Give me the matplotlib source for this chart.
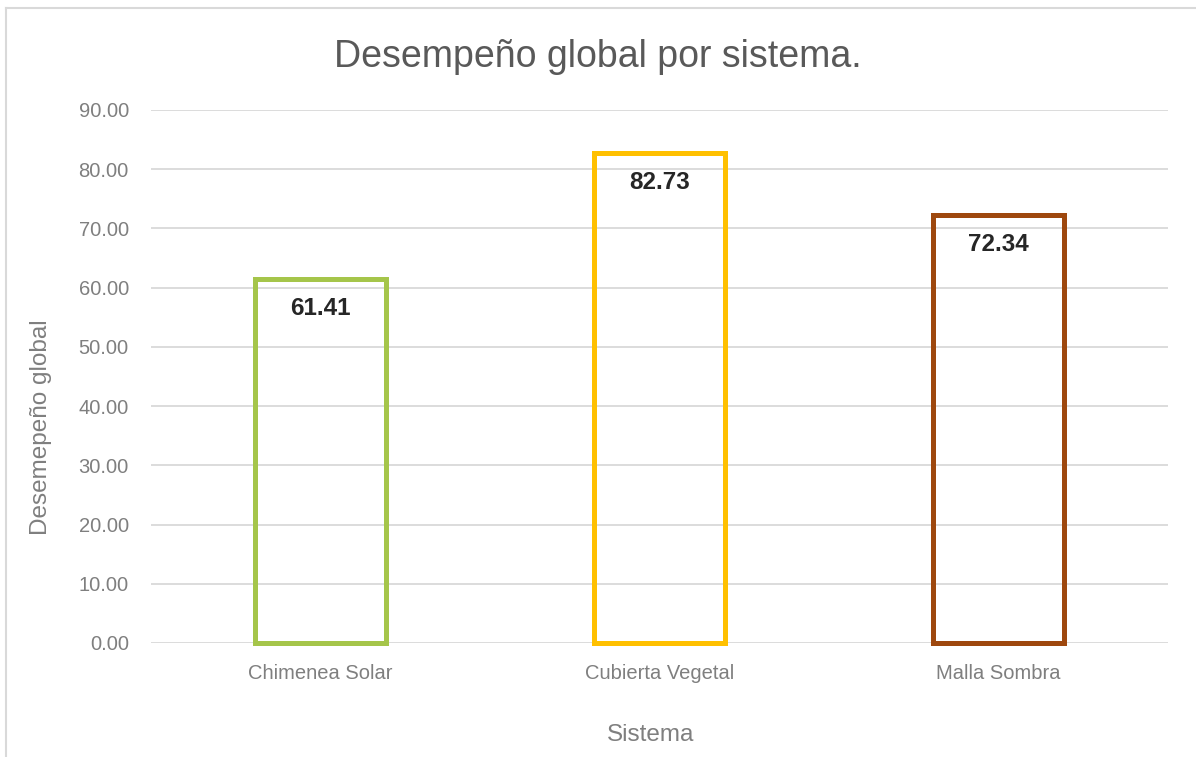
import matplotlib.pyplot as plt
from matplotlib.lines import Line2D

# Data
sistemas = ["Chimenea Solar", "Cubierta Vegetal", "Malla Sombra"]
desempeno = [61.41, 82.73, 72.34]
colores = ["#A5C54A", "#FFC000", "#9E480E"]
y_ticks = [0, 10, 20, 30, 40, 50, 60, 70, 80, 90]

plt.rcParams["font.family"] = ["Liberation Sans", "DejaVu Sans"]

fig = plt.figure(figsize=(11.96, 7.57), dpi=100)
ax = fig.add_axes([0.1263, 0.1506, 0.8503, 0.7041])

x = range(len(sistemas))
bars = ax.bar(x, desempeno, width=0.385, facecolor="none", edgecolor=colores,
              linewidth=3.6, zorder=3)
for b in bars:
    b.set_clip_on(False)

for xi, val in zip(x, desempeno):
    ax.annotate(f"{val:.2f}", (xi, val), xytext=(0, -13), textcoords="offset points",
                ha="center", va="top", fontsize=17.5, fontweight="bold",
                color="#262626", zorder=4)

ax.set_xlim(-0.5, 2.5)
ax.set_ylim(0, 90)
ax.set_yticks(y_ticks)
ax.set_yticklabels([f"{t:.2f}" for t in y_ticks])
ax.set_xticks(list(x))
ax.set_xticklabels(sistemas)
ax.tick_params(axis="both", length=0, colors="#7F7F7F", labelsize=14.5)
ax.tick_params(axis="y", pad=16)
ax.tick_params(axis="x", pad=15)
ax.grid(axis="y", color="#D9D9D9", linewidth=1.3, zorder=0)
for s in ax.spines.values():
    s.set_visible(False)

ax.set_xlabel("Sistema", fontsize=17.5, color="#7F7F7F")
ax.xaxis.set_label_coords(0.4917, -0.152)
ax.set_ylabel("Desemepeño global", fontsize=17.5, color="#7F7F7F")
ax.yaxis.set_label_coords(-0.097, 0.405)
fig.text(0.5, 0.925, "Desempeño global por sistema.", ha="center", va="center",
         fontsize=27, color="#595959")

# chart frame (left and top edges only)
fx = 6 / 1196
fy = 1 - 8 / 757
fig.lines.append(Line2D([fx, fx], [0, fy], transform=fig.transFigure,
                        color="#D9D9D9", linewidth=1.5))
fig.lines.append(Line2D([fx, 1], [fy, fy], transform=fig.transFigure,
                        color="#D9D9D9", linewidth=1.5))

fig.savefig("out.png", dpi=100)
